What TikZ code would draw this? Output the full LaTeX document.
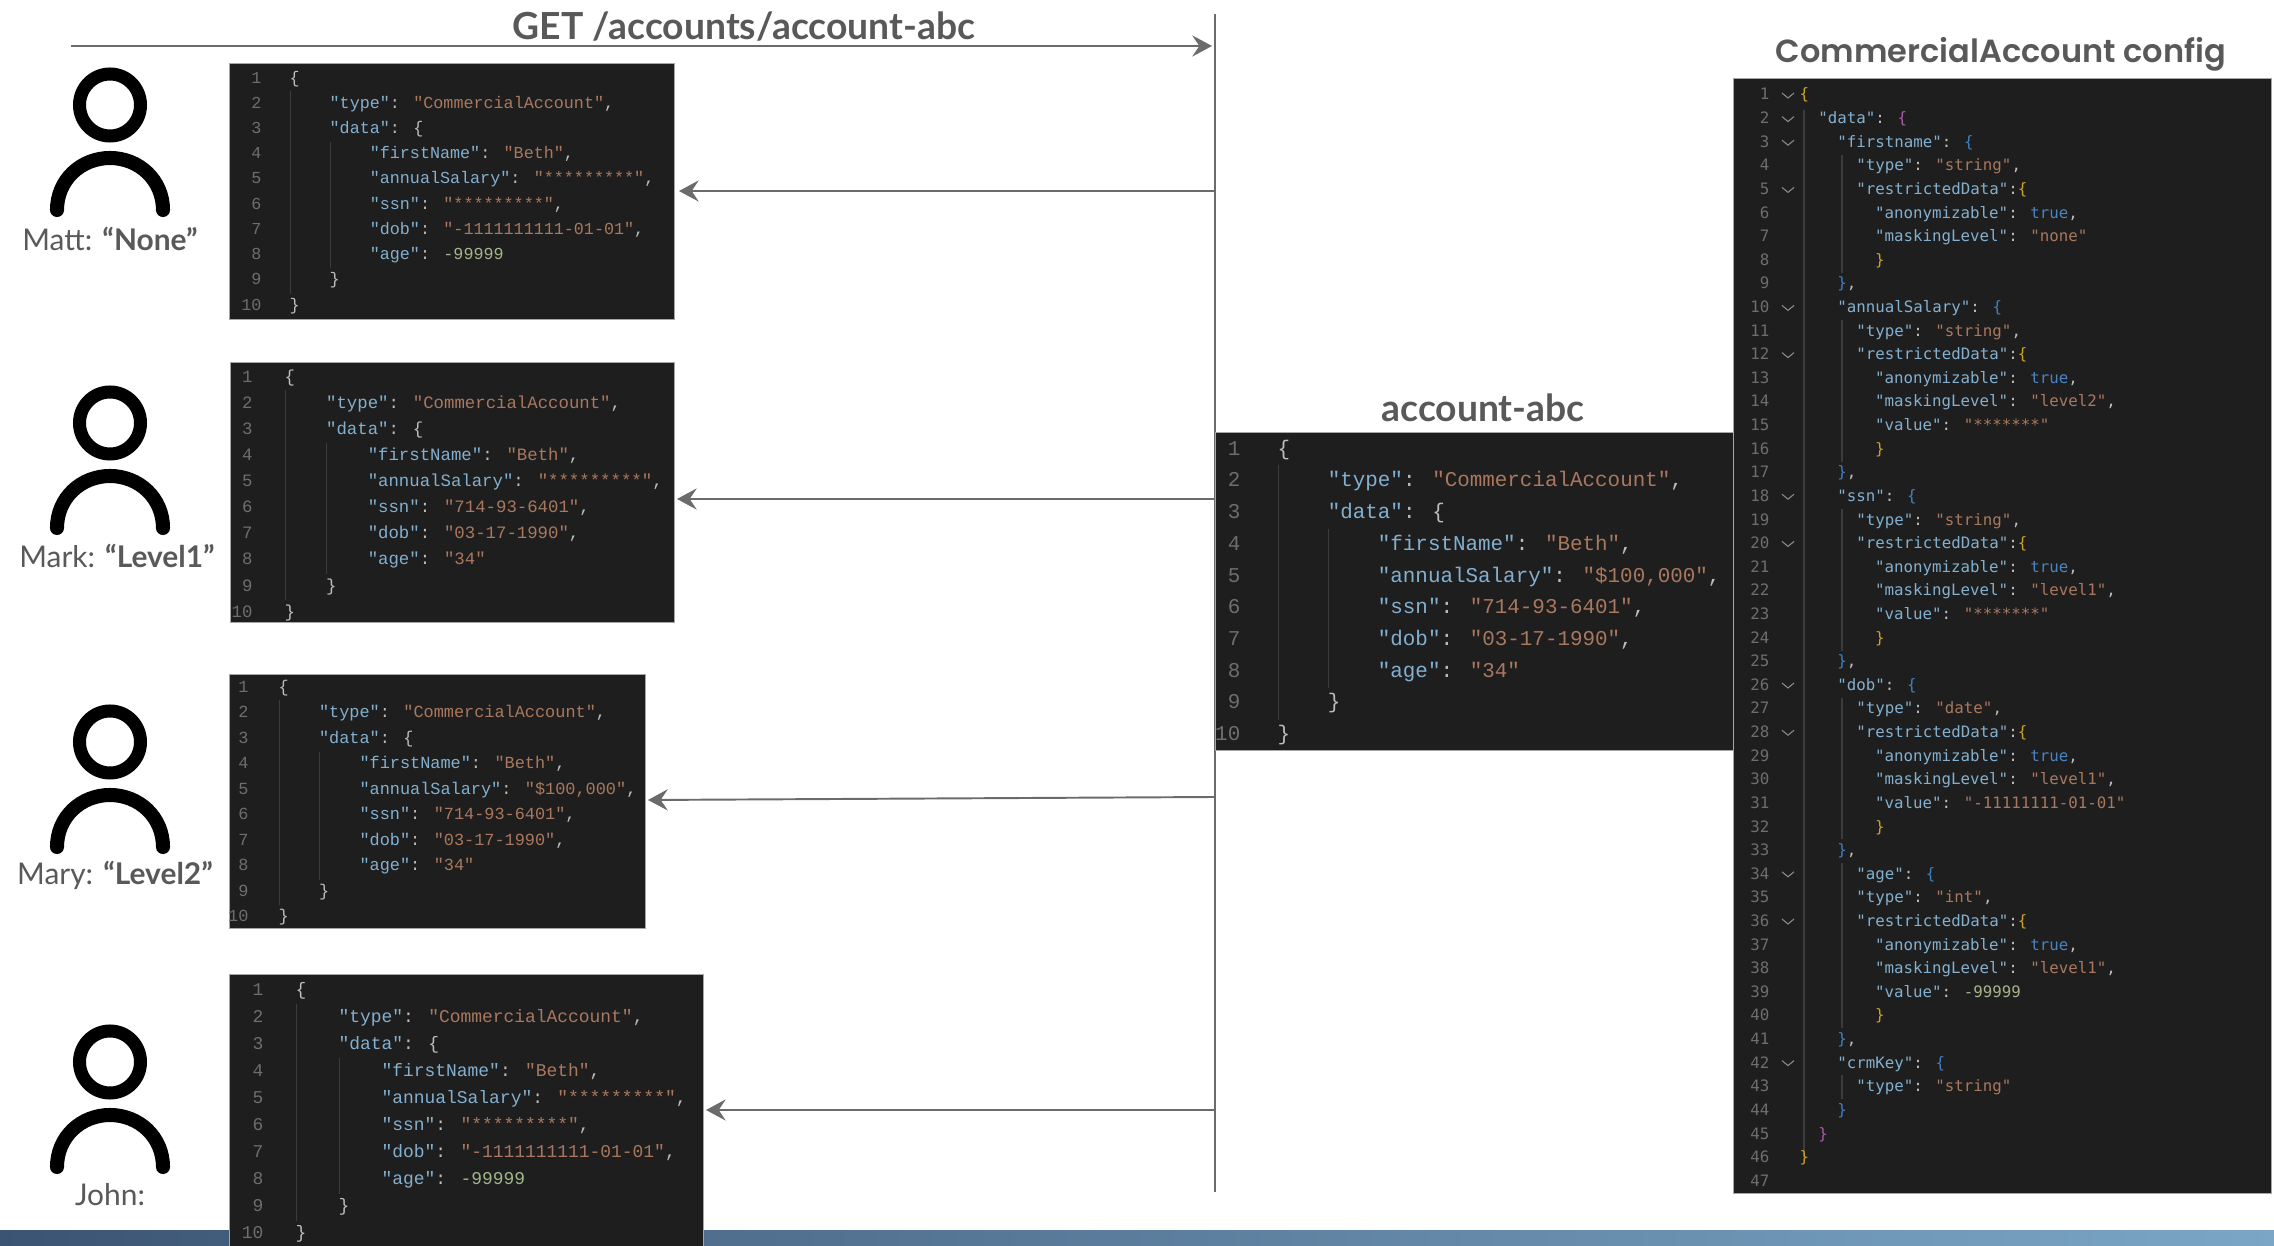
\documentclass[tikz,border=0pt]{standalone}
\usepackage{fontspec}
\setmainfont{Lato}
\newfontfamily\plexfont{Liberation Mono}
\newfontfamily\menlofont{DejaVu Sans Mono}
\newfontfamily\widefont{Poppins}[BoldFont={Poppins SemiBold}]
\usetikzlibrary{arrows.meta}
\definecolor{inkgray}{HTML}{595959}
\definecolor{wiregray}{HTML}{6B6B6B}
\definecolor{codebg}{HTML}{1E1E1E}
\definecolor{guidegray}{HTML}{3C3C3C}
\definecolor{numgray}{HTML}{6E6E6E}
\definecolor{punctgray}{HTML}{BDBDBD}
\definecolor{keyblue}{HTML}{83B0CF}
\definecolor{strbrown}{HTML}{A9785E}
\definecolor{numgreen}{HTML}{A3B58C}
\definecolor{trublue}{HTML}{4A83C2}
\definecolor{brayellow}{HTML}{C9A227}
\definecolor{bramag}{HTML}{A85BA8}
\definecolor{brablue}{HTML}{3F7FC4}
\definecolor{banddark}{HTML}{3C5473}
\definecolor{bandlight}{HTML}{7BA6C6}
\newcommand{\jkey}[1]{\textcolor{keyblue}{#1}}
\newcommand{\jstr}[1]{\textcolor{strbrown}{#1}}
\newcommand{\jnum}[1]{\textcolor{numgreen}{#1}}
\newcommand{\jtru}[1]{\textcolor{trublue}{#1}}
\newcommand{\jyel}[1]{\textcolor{brayellow}{#1}}
\newcommand{\jmag}[1]{\textcolor{bramag}{#1}}
\newcommand{\jblu}[1]{\textcolor{brablue}{#1}}
\tikzset{
    title/.style={font=\bfseries\fontsize{10.6}{12}\selectfont,text=inkgray,inner sep=0pt},
    who/.style={font=\fontsize{8.5}{10}\selectfont,text=inkgray,inner sep=0pt},
    panel/.style={fill=codebg,draw=gray!70,line width=0.2pt,inner sep=0pt,anchor=north west},
    codeline/.style={anchor=west,inner sep=0pt,text height=4.4pt,text depth=1.4pt,text=punctgray},
    lineno/.style={anchor=east,inner sep=0pt,text height=4.4pt,text depth=1.4pt,text=numgray},
    guide/.style={draw=guidegray,line width=0.3pt},
    chevron/.style={draw=gray!90,line width=0.3pt},
    wire/.style={draw=wiregray,line width=0.55pt},
    reply/.style={wire,-{Stealth[length=5.6pt,width=6pt,inset=2pt]}},
    person/.pic={
        \draw[line width=3.7pt] (0,0) ellipse (30.5 and 31);
        \draw[line width=4pt,line cap=round] (-53,105) .. controls (-53,75) and (-29,53) .. (0,53) .. controls (29,53) and (53,75) .. (53,105);
    },
}
\begin{document}
\begin{tikzpicture}[x=0.01cm,y=-0.01cm]
				  \useasboundingbox[fill=white] (0,0) rectangle (2274,1246);
				  %BAND
				  \shade[left color=banddark,right color=bandlight] (0,1231) rectangle (2274,1246);
				  %SPINE
				  \coordinate (S_top) at (1215,14);
				  \coordinate (S_bot) at (1215,1192);
				  \draw[wire] (S_top) -- (S_bot);
				  %REQUEST
				  \coordinate (R_start) at (71,46);
				  \coordinate (R_end) at (1212,46);
				  \draw[reply] (R_start) -- (R_end);
				  \node[title] (T_get) at (744,27) {GET /accounts/account-abc};
				  %PERSONS
				  \foreach \who/\hy in {matt/105,mark/423,mary/742,john/1062}
				      \pic (P_\who) at (110,\hy) {person};
				  \node[who] (L_matt) at (110,239) {Matt: \textbf{“None”}};
				  \node[who] (L_mark) at (117,556) {Mark: \textbf{“Level1”}};
				  \node[who] (L_mary) at (115,875) {Mary: \textbf{“Level2”}};
				  \node[who] (L_john) at (110,1195) {John:};
				  %CODE PANELS
				  \foreach \bname/\bx/\by/\bw/\bh/\nx/\tx/\ty/\xs/\ys/\sal/\ssnv/\dobv/\agev in {
				      matt/229/63/445/256/262/289/79/0.793/0.795/{"*********"}/{"*********"}/{"-1111111111-01-01"}/{\jnum{-99999}},
				      mark/230/362/444/260/253/284/378/0.822/0.823/{"*********"}/{"714-93-6401"}/{"03-17-1990"}/{\jstr{"34"}},
				      mary/229/674/416/254/249/278/688/0.80/0.805/{"\$100,000"}/{"714-93-6401"}/{"03-17-1990"}/{\jstr{"34"}},
				      john/229/974/474/272/264/295/991/0.85/0.852/{"*********"}/{"*********"}/{"-1111111111-01-01"}/{\jnum{-99999}},
				      abc/1215/432/519/318/1241/1277/450/0.99/1/{"\$100,000"}/{"714-93-6401"}/{"03-17-1990"}/{\jstr{"34"}}}
				  {
				      \node[panel,minimum width=\bw*0.01cm,minimum height=\bh*0.01cm] (B_\bname) at (\bx,\by) {};
				      \begin{scope}[shift={(\tx,\ty)},xscale=\xs,yscale=\ys,transform shape]
				          \draw[guide] (1.5,15) -- (1.5,270);
				          \draw[guide] (52,79) -- (52,238);
				          \foreach \l in {1,...,10}
				              \node[lineno,font=\plexfont\fontsize{6}{7}\selectfont] (N_\bname_\l) at ({(\nx-\tx)/\xs},{(\l-1)*31.7}) {\l};
				          \foreach \l/\c/\t in {
				              1/0/{\{},
				              2/4/{\jkey{"type"}: \jstr{"CommercialAccount"},},
				              3/4/{\jkey{"data"}: \{},
				              4/8/{\jkey{"firstName"}: \jstr{"Beth"},},
				              5/8/{\jkey{"annualSalary"}: \jstr{\sal},},
				              6/8/{\jkey{"ssn"}: \jstr{\ssnv},},
				              7/8/{\jkey{"dob"}: \jstr{\dobv},},
				              8/8/{\jkey{"age"}: \agev},
				              9/4/{\}},
				              10/0/{\}}}
				              \node[codeline,font=\plexfont\fontsize{6}{7}\selectfont] (C_\bname_\l) at ({\c*12.65},{(\l-1)*31.7}) {\t};
				      \end{scope}
				  }
				  \node[title] (T_abc) at (1483,408) {account-abc};
				  %REPLIES
				  \foreach \bname/\sy/\ex/\ey in {matt/191/679/191,mark/499/677/499,mary/797/648/800,john/1110/706/1110}
				  {
				      \coordinate (A_\bname) at (1215,\sy);
				      \coordinate (Z_\bname) at (\ex,\ey);
				      \draw[reply] (A_\bname) -- (Z_\bname);
				  }
				  %CONFIG
				  \node[panel,minimum width=5.38cm,minimum height=11.14cm] (B_config) at (1733,78) {};
				  \node[title,font=\widefont\bfseries\fontsize{9.1}{11}\selectfont] (T_config) at (2001,54) {CommercialAccount config};
				  \draw[guide] (1804,110) -- (1804,1158);
				  \foreach \ga/\gb in {4/8,11/16,19/24,27/32,34/40,43/43}
				      \draw[guide] (1842,{96+(\ga-1.5)*23.6}) -- (1842,{96+(\gb-0.5)*23.6});
				  \foreach \l in {1,2,3,5,10,12,18,20,26,28,34,36,42}
				      \draw[chevron] (1782,{93+(\l-1)*23.6}) -- (1788,{98+(\l-1)*23.6}) -- (1794,{93+(\l-1)*23.6});
				  \begin{scope}[shift={(1799,96)},xscale=0.748,yscale=0.745,transform shape]
				      \foreach \l in {1,...,47}
				          \node[lineno,font=\menlofont\fontsize{6}{7}\selectfont] (N_config_\l) at (-39,{(\l-1)*31.7}) {\l};
				      \foreach \l/\c/\t in {
				          1/0/{\jyel{\{}},
				          2/2/{\jkey{"data"}: \jmag{\{}},
				          3/4/{\jkey{"firstname"}: \jblu{\{}},
				          4/6/{\jkey{"type"}: \jstr{"string"},},
				          5/6/{\jkey{"restrictedData"}:\jyel{\{}},
				          6/8/{\jkey{"anonymizable"}: \jtru{true},},
				          7/8/{\jkey{"maskingLevel"}: \jstr{"none"}},
				          8/8/{\jyel{\}}},
				          9/4/{\jblu{\}},},
				          10/4/{\jkey{"annualSalary"}: \jblu{\{}},
				          11/6/{\jkey{"type"}: \jstr{"string"},},
				          12/6/{\jkey{"restrictedData"}:\jyel{\{}},
				          13/8/{\jkey{"anonymizable"}: \jtru{true},},
				          14/8/{\jkey{"maskingLevel"}: \jstr{"level2"},},
				          15/8/{\jkey{"value"}: \jstr{"*******"}},
				          16/8/{\jyel{\}}},
				          17/4/{\jblu{\}},},
				          18/4/{\jkey{"ssn"}: \jblu{\{}},
				          19/6/{\jkey{"type"}: \jstr{"string"},},
				          20/6/{\jkey{"restrictedData"}:\jyel{\{}},
				          21/8/{\jkey{"anonymizable"}: \jtru{true},},
				          22/8/{\jkey{"maskingLevel"}: \jstr{"level1"},},
				          23/8/{\jkey{"value"}: \jstr{"*******"}},
				          24/8/{\jyel{\}}},
				          25/4/{\jblu{\}},},
				          26/4/{\jkey{"dob"}: \jblu{\{}},
				          27/6/{\jkey{"type"}: \jstr{"date"},},
				          28/6/{\jkey{"restrictedData"}:\jyel{\{}},
				          29/8/{\jkey{"anonymizable"}: \jtru{true},},
				          30/8/{\jkey{"maskingLevel"}: \jstr{"level1"},},
				          31/8/{\jkey{"value"}: \jstr{"-11111111-01-01"}},
				          32/8/{\jyel{\}}},
				          33/4/{\jblu{\}},},
				          34/6/{\jkey{"age"}: \jblu{\{}},
				          35/6/{\jkey{"type"}: \jstr{"int"},},
				          36/6/{\jkey{"restrictedData"}:\jyel{\{}},
				          37/8/{\jkey{"anonymizable"}: \jtru{true},},
				          38/8/{\jkey{"maskingLevel"}: \jstr{"level1"},},
				          39/8/{\jkey{"value"}: \jnum{-99999}},
				          40/8/{\jyel{\}}},
				          41/4/{\jblu{\}},},
				          42/4/{\jkey{"crmKey"}: \jblu{\{}},
				          43/6/{\jkey{"type"}: \jstr{"string"}},
				          44/4/{\jblu{\}}},
				          45/2/{\jmag{\}}},
				          46/0/{\jyel{\}}}}
				          \node[codeline,font=\menlofont\fontsize{6}{7}\selectfont] (C_config_\l) at ({\c*12.65},{(\l-1)*31.7}) {\t};
				  \end{scope}
\end{tikzpicture}
\end{document}
